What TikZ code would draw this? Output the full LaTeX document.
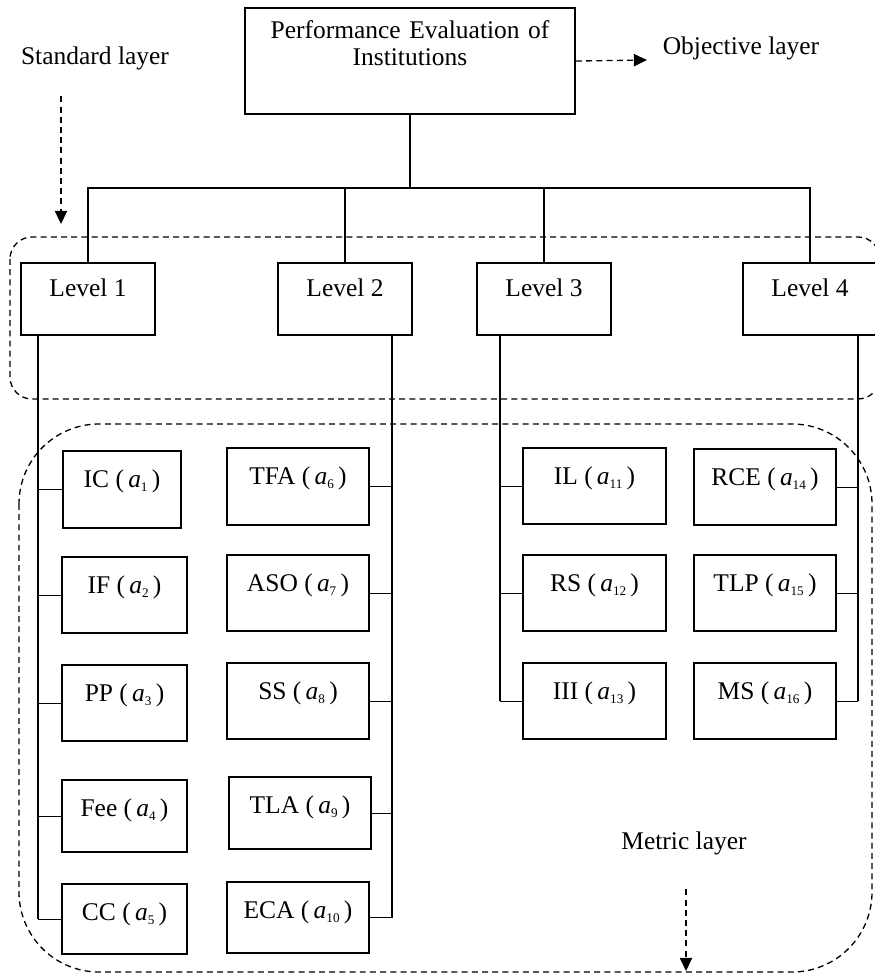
\documentclass[tikz,border=0pt]{standalone}
\usepackage{fontspec}
\setmainfont{Liberation Serif}
\usetikzlibrary{arrows,arrows.meta}
\newcommand{\aidx}[1]{\textit{a}\raisebox{-0.35ex}{\fontsize{7.5}{8}\selectfont #1}\,}

\begin{document}
\fontsize{14.5}{15.5}\selectfont
\begin{tikzpicture}[x=0.02cm,y=-0.02cm] % one unit = one pixel of the sketch
	\tikzset{box/.style={draw,line width=1.2pt,inner sep=0pt,anchor=north,align=center,text height=0.72cm,text depth=0.82cm}}
	\tikzset{layer/.style={draw,dash pattern=on 3.4pt off 2.4pt,line width=0.75pt}}
	\tikzset{layerarrow/.style={layer,-{Triangle[length=7.5pt,width=7pt]}}}
	\tikzset{wire/.style={line width=0.6pt}}
	
	\useasboundingbox (0,0) rectangle (875,977);
	
	% Dashed layer frames
	\draw[layer,rounded corners=0.44cm] (10,237) rectangle (880,399);
	\draw[layer,rounded corners=1.6cm] (19,424) rectangle (872,972);
	
	% Objective layer
	\node[box,text width=6.6cm,text height=0.6cm,text depth=1.52cm] (goal) at (410,7) {Performance Evaluation of\\Institutions};
	
	% Standard layer: the four levels
	\def\lvlw{2.68cm}
	\foreach \i/\x in {1/88,2/345,3/544,4/810}
	{
		\node[box,minimum width=\lvlw,text height=0.66cm,text depth=0.78cm] (lvl\i) at (\x,262) {Level \i};
	}
	
	% Metric layer, first column
	\foreach \n/\t/\x/\y/\w/\d in {ic/IC (\,\aidx{1})/122/450/2.36cm/0.82cm,
		if/IF (\,\aidx{2})/124.5/556/2.5cm/0.8cm,
		pp/PP (\,\aidx{3})/124.5/664/2.5cm/0.8cm,
		fee/Fee (\,\aidx{4})/124.5/779/2.5cm/0.72cm,
		cc/CC (\,\aidx{5})/124.5/883/2.5cm/0.68cm}
	{
		\node[box,minimum width=\w,text depth=\d] (\n) at (\x,\y) {\t};
	}
	
	% Metric layer, second column
	\foreach \n/\t/\x/\y/\d in {tfa/TFA (\,\aidx{6})/298/447/0.82cm,
		aso/ASO (\,\aidx{7})/298/554/0.8cm,
		ss/SS (\,\aidx{8})/298/662/0.8cm,
		tla/TLA (\,\aidx{9})/300/776/0.72cm,
		eca/ECA (\,\aidx{10})/298/881/0.7cm}
	{
		\node[box,minimum width=2.84cm,text depth=\d] (\n) at (\x,\y) {\t};
	}
	
	% Metric layer, third and fourth column
	\foreach \n/\t/\x/\y in {il/IL (\,\aidx{11})/594.5/447,
		rs/RS (\,\aidx{12})/594.5/554,
		iii/III (\,\aidx{13})/594.5/662,
		rce/RCE (\,\aidx{14})/765/448,
		tlp/TLP (\,\aidx{15})/765/554,
		ms/MS (\,\aidx{16})/765/662}
	{
		\node[box,minimum width=2.85cm,text depth=0.8cm] (\n) at (\x,\y) {\t};
	}
	
	% Tree from the goal down to the levels
	\coordinate (split) at (410,188);
	\draw[wire] (goal.south) -- (split);
	\foreach \i in {1,...,4}
	{
		\draw[wire] (split) -| (lvl\i.north);
	}
	
	% Buses from the levels to the metrics
	\coordinate (bus1) at (38,0);
	\coordinate (bus2) at (392,0);
	\coordinate (bus3) at (500,0);
	\coordinate (bus4) at (858,0);
	\draw[wire] (lvl1.south -| bus1) -- (cc.west -| bus1);
	\draw[wire] (lvl2.south -| bus2) -- (eca.east -| bus2);
	\draw[wire] (lvl3.south -| bus3) -- (iii.west -| bus3);
	\draw[wire] (lvl4.south -| bus4) -- (ms.east -| bus4);
	\foreach \n in {ic,if,pp,fee,cc}
	{
		\draw[wire] (\n.west) -- (\n.west -| bus1);
	}
	\foreach \n in {tfa,aso,ss,tla,eca}
	{
		\draw[wire] (\n.east) -- (\n.east -| bus2);
	}
	\foreach \n in {il,rs,iii}
	{
		\draw[wire] (\n.west) -- (\n.west -| bus3);
	}
	\foreach \n in {rce,tlp,ms}
	{
		\draw[wire] (\n.east) -- (\n.east -| bus4);
	}
	
	% Layer names and their arrows
	\node (std) at (95,58) {Standard layer};
	\node (obj) at (741,48) {Objective layer};
	\node (met) at (684,843) {Metric layer};
	\coordinate (objtip) at (647,60);
	\coordinate (stdtip) at (61,224);
	\coordinate (mettip) at (686,971);
	\draw[layerarrow] (goal.east) -- (objtip);
	\draw[layerarrow] (std.south -| stdtip) ++(0,18) -- (stdtip);
	\draw[layerarrow] (met.south -| mettip) ++(0,26) -- (mettip);
\end{tikzpicture}
\end{document}
